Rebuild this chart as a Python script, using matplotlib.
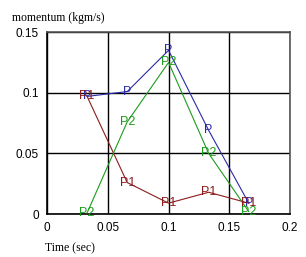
import matplotlib
matplotlib.use("Agg")
import matplotlib.pyplot as plt

# data
t = [0.033, 0.066, 0.1, 0.133, 0.166]
p = [0.097, 0.101, 0.135, 0.069, 0.009]
p1 = [0.097, 0.026, 0.009, 0.018, 0.009]
p2 = [0.001, 0.076, 0.125, 0.050, 0.002]

series = [("P", p, "#2a2aa8"), ("P1", p1, "#8c1c1c"), ("P2", p2, "#1c9c1c")]

fig = plt.figure(figsize=(3.06, 2.57), dpi=100)
ax = fig.add_axes([0.1536, 0.167, 0.7944, 0.708])

for name, vals, col in series:
    ax.plot(t, vals, color=col, lw=0.8, zorder=3)
    for x, y in zip(t, vals):
        ax.text(x, y, name, color=col, fontsize=9, family="Liberation Sans",
                ha="center", va="center", zorder=4)

ax.set_xlim(0, 0.2)
ax.set_ylim(0, 0.15)
ax.set_xticks([0, 0.05, 0.1, 0.15, 0.2])
ax.set_xticklabels(["0", "0.05", "0.1", "0.15", "0.2"])
ax.set_yticks([0, 0.05, 0.1, 0.15])
ax.set_yticklabels(["0", "0.05", "0.1", "0.15"])
ax.grid(True, color="black", lw=1)
ax.tick_params(length=0, labelsize=8.5, pad=6)
for lab in ax.get_xticklabels() + ax.get_yticklabels():
    lab.set_family("Liberation Sans")
for s in ["left", "bottom"]:
    ax.spines[s].set_color("black")
    ax.spines[s].set_linewidth(1.2)
for s in ["top", "right"]:
    ax.spines[s].set_color("#555555")
    ax.spines[s].set_linewidth(1.2)

fig.text(12 / 306, 1 - 18 / 257, "momentum (kgm/s)", family="Liberation Serif",
         fontsize=8.5, va="center", ha="left")
fig.text(45 / 306, 1 - 248 / 257, "Time (sec)", family="Liberation Serif",
         fontsize=8.5, va="center", ha="left")

fig.savefig("out.png", dpi=100)
